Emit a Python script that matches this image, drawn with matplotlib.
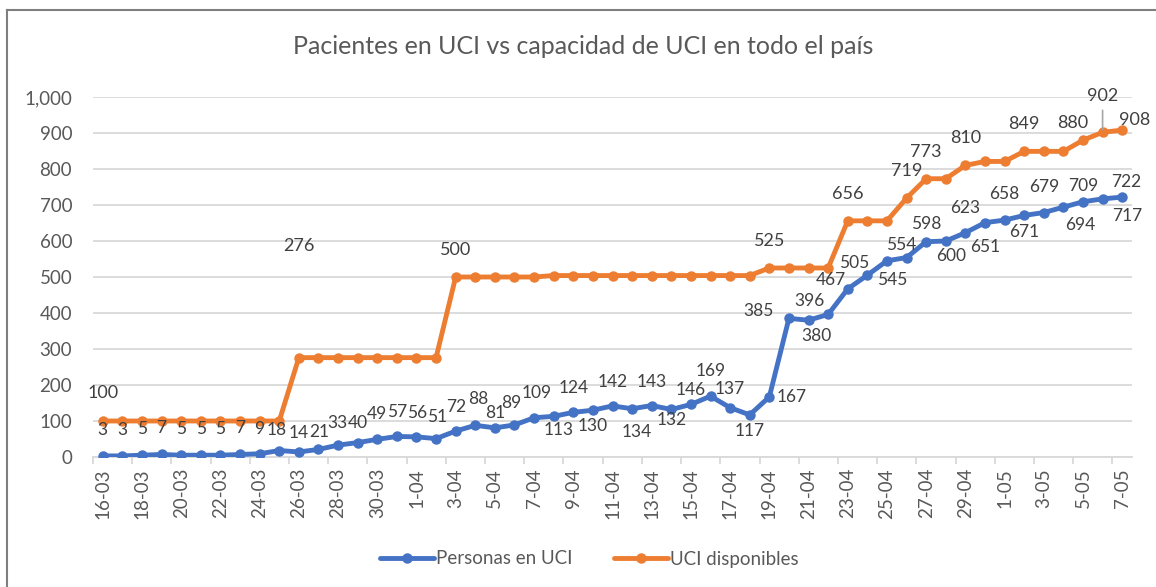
import matplotlib
matplotlib.use("Agg")
import matplotlib.pyplot as plt
from matplotlib.lines import Line2D
from matplotlib.ticker import FuncFormatter

plt.rcParams['font.family'] = ['Lato', 'DejaVu Sans']

# Data
fechas = ['16-03', '17-03', '18-03', '19-03', '20-03', '21-03', '22-03', '23-03',
          '24-03', '25-03', '26-03', '27-03', '28-03', '29-03', '30-03', '31-03',
          '1-04', '2-04', '3-04', '4-04', '5-04', '6-04', '7-04', '8-04', '9-04',
          '10-04', '11-04', '12-04', '13-04', '14-04', '15-04', '16-04', '17-04',
          '18-04', '19-04', '20-04', '21-04', '22-04', '23-04', '24-04', '25-04',
          '26-04', '27-04', '28-04', '29-04', '30-04', '1-05', '2-05', '3-05',
          '4-05', '5-05', '6-05', '7-05']

personas_uci = [3, 3, 5, 7, 5, 5, 5, 7, 9, 18,
                14, 21, 33, 40, 49, 57, 56, 51,
                72, 88, 81, 89,
                109, 113, 124, 130, 142, 134, 143, 132, 146, 169,
                137, 117, 167,
                385, 380, 396, 467, 505, 545, 554, 598, 600, 623,
                651, 658, 671, 679, 694, 709, 717, 722]

uci_disponibles = [100, 100, 100, 100, 100, 100, 100, 100, 100, 100,
                   276, 276, 276, 276, 276, 276, 276, 276,
                   500, 500, 500, 500, 500,
                   504, 504, 504, 504, 504, 504, 504, 504, 504, 504, 504,
                   525, 525, 525, 525,
                   656, 656, 656,
                   719, 773, 773, 810, 821, 821,
                   849, 849, 849, 880, 902, 908]

# label offsets (pixels) for each blue point, as placed in the original chart
off_personas = [(0, 26), (0, 26), (0, 26), (0, 26), (0, 26), (0, 26), (0, 26), (0, 26),
                (0, 25), (-3, 21), (0, 19), (1, 17), (-1, 22), (0, 20), (0, 25), (0, 24),
                (1, 24), (1, 22), (1, 24), (3, 26), (0, 15), (-3, 22), (3, 25), (5, -14),
                (0, 24), (0, -16), (0, 24), (5, -23), (0, 24), (0, -11), (0, 14), (0, 25),
                (0, 19), (0, -16), (22, 0), (-30, 7), (8, -16), (-19, 13), (-17, 9),
                (-13, 12), (5, -19), (-5, 13), (0, 18), (5, -15), (0, 25), (0, -24),
                (0, 26), (0, -17), (0, 26), (17, -18), (0, 16), (25, -17), (4, 15)]

# orange labelled points and their offsets in pixels
etiquetas_disp = {0: (0, 28), 10: (0, 112), 18: (0, 27), 34: (0, 27),
                  38: (0, 27), 41: (0, 27), 42: (0, 27), 44: (0, 27),
                  47: (0, 27), 50: (-10, 17), 51: (0, 36), 52: (12, 10)}

azul = '#4472C4'
naranja = '#ED7D31'
gris_texto = '#595959'
gris_label = '#404040'
gris_grid = '#D9D9D9'
fs = 13.5
fs_lab = 12.5

fig = plt.figure(figsize=(11.56, 5.87), dpi=100)
ax = fig.add_axes([93 / 1156, 130 / 587, (1132 - 93) / 1156, 360 / 587])

x = list(range(len(fechas)))
ax.plot(x, personas_uci, color=azul, lw=3.5, marker='o', ms=6.5,
        label='Personas en UCI', zorder=3, solid_capstyle='round')
ax.plot(x, uci_disponibles, color=naranja, lw=3.5, marker='o', ms=6.5,
        label='UCI disponibles', zorder=3, solid_capstyle='round')

# Data labels
for i, v in enumerate(personas_uci):
    ax.annotate(str(v), (i, v), xytext=off_personas[i], textcoords='offset pixels',
                ha='center', va='center', fontsize=fs_lab, color=gris_label)

for i, (dx, dy) in etiquetas_disp.items():
    v = uci_disponibles[i]
    ax.annotate(str(v), (i, v), xytext=(dx, dy), textcoords='offset pixels',
                ha='center', va='center', fontsize=fs_lab + 0.5, color=gris_label)
# leader line for 902
ax.annotate('', (51, uci_disponibles[51]), xytext=(0, 22), textcoords='offset pixels',
            arrowprops=dict(arrowstyle='-', color='#A6A6A6', lw=1.2, shrinkA=0, shrinkB=2))

# Axes styling
ax.set_xlim(-0.5, len(fechas) - 0.5)
ax.set_ylim(0, 1000)
ax.set_yticks(range(0, 1001, 100))
ax.yaxis.set_major_formatter(FuncFormatter(lambda v, p: f'{int(v):,}'))
ax.grid(axis='y', color=gris_grid, lw=1.3)
ax.set_axisbelow(True)
for s in ['top', 'right', 'left']:
    ax.spines[s].set_visible(False)
ax.spines['bottom'].set_color(gris_grid)
ax.spines['bottom'].set_linewidth(1.3)
ax.tick_params(axis='y', length=0, labelsize=fs, labelcolor=gris_texto, pad=15)

ax.set_xticks([k - 0.5 for k in range(0, len(fechas), 2)])
ax.set_xticklabels([])
ax.set_xticks(x[::2], minor=True)
ax.set_xticklabels(fechas[::2], minor=True, rotation=90)
ax.tick_params(axis='x', which='major', length=5, color=gris_grid, width=1.3)
ax.tick_params(axis='x', which='minor', length=0, labelsize=fs,
               labelcolor=gris_texto, pad=8)

fig.text(583 / 1156, 1 - 47 / 587, 'Pacientes en UCI vs capacidad de UCI en todo el país',
         ha='center', va='center', fontsize=18, color=gris_texto)

fig.legend(loc='center', bbox_to_anchor=(589 / 1156, 1 - 559 / 587), ncol=2,
           frameon=False, fontsize=13.5, labelcolor=gris_texto, handlelength=2.9,
           handletextpad=0.1, columnspacing=2.2)

# chart border (top and left visible)
fig.add_artist(Line2D([7 / 1156, 7 / 1156], [0, 1 - 10 / 587], transform=fig.transFigure,
                      color='#7F7F7F', lw=1.5))
fig.add_artist(Line2D([7 / 1156, 1], [1 - 10 / 587, 1 - 10 / 587], transform=fig.transFigure,
                      color='#7F7F7F', lw=1.5))

fig.savefig('out.png', dpi=100)
